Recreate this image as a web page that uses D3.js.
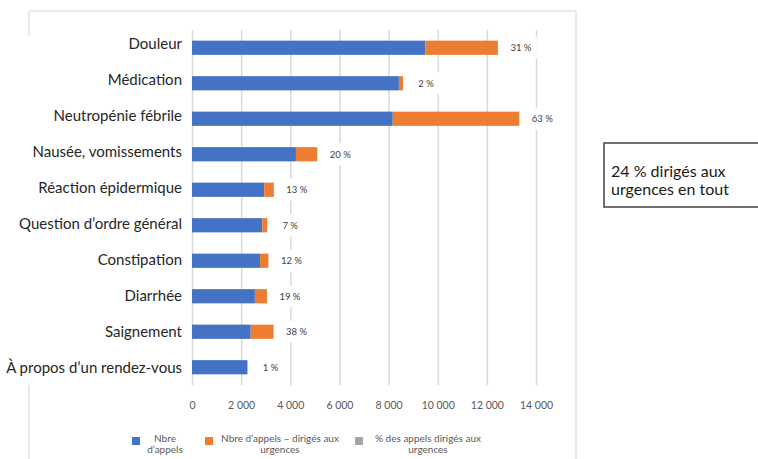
<!DOCTYPE html>
<html><head><meta charset="utf-8">
<script src="https://cdn.jsdelivr.net/npm/d3@7"></script>
<style>
html,body{margin:0;padding:0;background:#fff;}
svg{display:block;font-family:Lato, "Open Sans", sans-serif;}
</style></head>
<body>
<svg id="chart" width="758" height="459"></svg>
<script>
const categories = ["Douleur","Médication","Neutropénie fébrile","Nausée, vomissements","Réaction épidermique","Question d’ordre général","Constipation","Diarrhée","Saignement","À propos d’un rendez-vous"];
const calls = [9500, 8420, 8170, 4230, 2940, 2860, 2770, 2560, 2390, 2240];
const urgent = [2950, 170, 5150, 870, 390, 200, 340, 490, 930, 25];
const pct = [31, 2, 63, 20, 13, 7, 12, 19, 38, 1];
const xTicks = [0, 2000, 4000, 6000, 8000, 10000, 12000, 14000];
const legendLabels = [["Nbre","d’appels"],["Nbre d’appels – dirigés aux","urgences"],["% des appels dirigés aux","urgences"]];
const colors = ["#4472c4","#ed7d31","#a5a5a5"];
const noteLines = ["24 % dirigés aux","urgences en tout"];

const svg = d3.select("#chart");
const x = d3.scaleLinear().domain([0,14000]).range([192,536]);
const y = d3.scaleBand().domain(categories).range([30,385]).paddingInner(0.6).paddingOuter(0.3);
const yLabel = d3.scalePoint().domain(categories).range([44,367.5]);

// chart border
const bc = "#e2e2e2";
svg.append("line").attr("x1",29).attr("x2",576).attr("y1",11).attr("y2",11).attr("stroke",bc).attr("stroke-width",1.5);
svg.append("line").attr("x1",29).attr("x2",29).attr("y1",11).attr("y2",36).attr("stroke",bc).attr("stroke-width",1.5);
svg.append("line").attr("x1",29).attr("x2",29).attr("y1",385).attr("y2",459).attr("stroke",bc).attr("stroke-width",1.5);
svg.append("line").attr("x1",576).attr("x2",576).attr("y1",11).attr("y2",459).attr("stroke",bc).attr("stroke-width",1.5);

// gridlines via axis
const grid = svg.append("g").attr("transform","translate(0,385)")
  .call(d3.axisBottom(x).tickValues(xTicks).tickSize(-355).tickFormat(""));
grid.select(".domain").remove();
grid.selectAll(".tick line").attr("stroke","#d9d9d9").attr("stroke-width",1.5);

// tick labels
const ax = svg.append("g").attr("transform","translate(0,385)")
  .call(d3.axisBottom(x).tickValues(xTicks).tickSize(0).tickPadding(0).tickFormat(v => v===0?"0":d3.format(",")(v).replace(/,/g," ")));
ax.select(".domain").remove();
ax.selectAll(".tick text").attr("y",24).attr("dy",0).attr("fill","#595959").style("font-size","10.5px").style("font-family","Lato");

// bars
const rows = categories.map((c,i)=>({c, a:calls[i], u:urgent[i], p:pct[i]}));
svg.append("g").selectAll("rect").data(rows).join("rect")
  .attr("x", d=>x(0)).attr("y", d=>y(d.c)).attr("width", d=>x(d.a)-x(0)).attr("height", y.bandwidth())
  .attr("fill", colors[0]);
svg.append("g").selectAll("rect").data(rows).join("rect")
  .attr("x", d=>x(d.a)).attr("y", d=>y(d.c)).attr("width", d=>x(d.a+d.u)-x(d.a)).attr("height", y.bandwidth())
  .attr("fill", colors[1]);

// percentage labels
const lbl = svg.append("g").selectAll("g").data(rows).join("g")
  .attr("transform", d=>`translate(${x(d.a+d.u)+23},${y(d.c)+y.bandwidth()/2})`);
lbl.append("rect").attr("x",-16).attr("y",-11).attr("width",32).attr("height",22).attr("fill","#fff");
lbl.append("text").attr("text-anchor","middle").attr("dy","0.35em")
  .style("font-size","9.5px").attr("fill","#404040").text(d=>d.p+" %");

// category labels
svg.append("g").selectAll("text").data(rows).join("text")
  .attr("x",182).attr("y", d=>yLabel(d.c)).attr("dy","0.35em").attr("text-anchor","end")
  .style("font-size","15px").attr("fill","#262626").text(d=>d.c);

// legend
const lx = [132, 205, 355], lcx = [165, 280, 428];
const lg = svg.append("g").selectAll("g").data(legendLabels).join("g");
lg.append("rect").attr("x",(d,i)=>lx[i]).attr("y",437).attr("width",8).attr("height",8).attr("fill",(d,i)=>colors[i]);
lg.each(function(d,i){
  const t = d3.select(this).append("text").attr("text-anchor","middle").style("font-size","10px").attr("fill","#595959");
  d.forEach((s,k)=>t.append("tspan").attr("x",lcx[i]).attr("y",442+k*11).text(s));
});

// note box
svg.append("rect").attr("x",604).attr("y",143).attr("width",170).attr("height",64)
  .attr("fill","#fff").attr("stroke","#404040").attr("stroke-width",1.5);
const nt = svg.append("text").style("font-size","16px").attr("fill","#1a1a1a");
noteLines.forEach((s,k)=>nt.append("tspan").attr("x",611).attr("y",177+k*17.5).text(s));
</script>
</body></html>
